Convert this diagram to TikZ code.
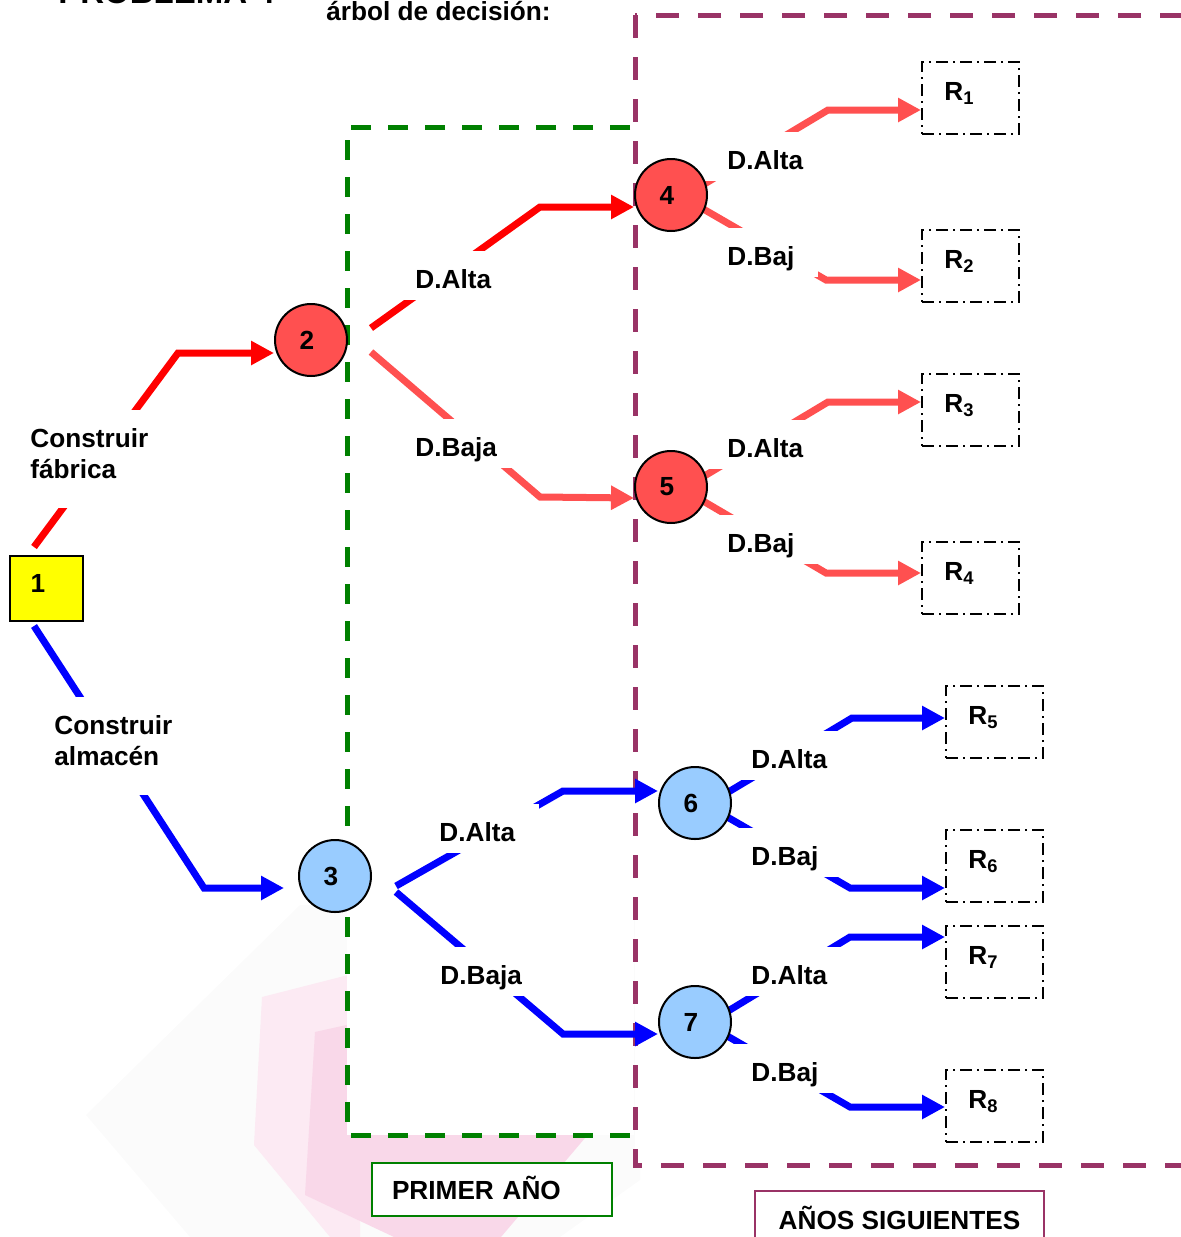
\documentclass[tikz,border=0pt]{standalone}
\usepackage{fontspec}
\setmainfont{Liberation Sans}
\usetikzlibrary{arrows.meta,calc}
\definecolor{rojo}{RGB}{255,0,0}
\definecolor{salmon}{RGB}{255,80,80}
\definecolor{azul}{RGB}{0,0,255}
\definecolor{celeste}{RGB}{153,204,255}
\definecolor{verde}{RGB}{0,128,0}
\definecolor{ciruela}{RGB}{153,51,102}
\definecolor{amarillo}{RGB}{255,255,0}
\definecolor{wmgrey}{RGB}{251,251,251}
\definecolor{wmpinkA}{RGB}{252,234,243}
\definecolor{wmpinkB}{RGB}{249,216,233}
\pgfdeclarelayer{wm}
\pgfdeclarelayer{conn}
\pgfdeclarelayer{lbl}
\pgfsetlayers{wm,conn,lbl,main}
\tikzset{
  txt/.style={font=\fontsize{13.1}{15.5}\selectfont\bfseries},
  rarrow/.style={line width=3.5pt, -{Triangle[length=11.5pt,width=11.5pt]}},
  lbl/.style={txt, fill=white, anchor=base west, inner xsep=12pt, inner ysep=6pt, text height=12.5pt, text depth=0pt},
  lbltwo/.style={txt, fill=white, anchor=north west, align=left, inner xsep=12pt, inner ysep=7pt},
  chance/.style={circle, draw=black, line width=1pt, minimum size=36pt, inner sep=0pt, txt},
  result/.style={draw=black, line width=1pt, dash pattern=on 6pt off 2.5pt on 1pt off 2.5pt, minimum width=48.5pt, minimum height=36pt, inner sep=0pt},
  rlab/.style={txt, anchor=base west, inner sep=0pt, xshift=11.5pt, yshift=-1pt},
}
\begin{document}
\begin{tikzpicture}[x=0.5pt,y=-0.5pt]
\useasboundingbox (0,0) rectangle (1181,1237);

% background watermark and period frames
\begin{pgfonlayer}{wm}
  \fill[wmgrey] (86,1115) -- (300,905) -- (640,905) -- (640,1180) -- (560,1237) -- (190,1237) -- cycle;
  \fill[wmpinkA] (262,997) -- (360,972) -- (360,1237) -- (330,1237) -- (254,1145) -- cycle;
  \fill[wmpinkB] (315,1032) -- (360,1022) -- (585,1138) -- (501,1237) -- (394,1237) -- (305,1195) -- cycle;
  \fill[white] (635,15) rectangle (1250,1165);
  \fill[white] (347,127) rectangle (634,1135);
  \draw[verde, line width=2.5pt, dash pattern=on 10pt off 8.5pt] (630,127) -- (347,127) -- (347,1135) -- (630,1135);
  \draw[ciruela, line width=2.5pt, dash pattern=on 11.5pt off 9.5pt] (635,15) rectangle (1250,1165);
\end{pgfonlayer}

% titles
\node[txt, font=\fontsize{16.5}{19}\selectfont\bfseries, anchor=base west, inner sep=0pt] (tprob) at (58,3) {PROBLEMA 4};
\node[txt, anchor=base west, inner sep=0pt] (tarbol) at (326,20) {árbol de decisión:};

% decision node and chance nodes
\node[draw=black, fill=amarillo, line width=1pt, minimum width=36.5pt, minimum height=32.5pt, inner sep=0pt,
      label={[txt, xshift=-4.25pt, yshift=2.75pt]center:1}] (n1) at (46.5,588.5) {};
\node[chance, fill=salmon] (n2) at (311,340) {\hspace*{-4pt}2};
\node[chance, fill=celeste] (n3) at (335,876) {\hspace*{-4pt}3};
\node[chance, fill=salmon] (n4) at (671,195) {\hspace*{-4pt}4};
\node[chance, fill=salmon] (n5) at (671,487) {\hspace*{-4pt}5};
\node[chance, fill=celeste] (n6) at (695,803) {\hspace*{-4pt}6};
\node[chance, fill=celeste] (n7) at (695,1022) {\hspace*{-4pt}7};

% result boxes
\node[result, label={[rlab]west:R\textsubscript{1}}] (R1) at (970.5,98) {};
\node[result, label={[rlab]west:R\textsubscript{2}}] (R2) at (970.5,266) {};
\node[result, label={[rlab]west:R\textsubscript{3}}] (R3) at (970.5,410) {};
\node[result, label={[rlab]west:R\textsubscript{4}}] (R4) at (970.5,578) {};
\node[result, label={[rlab]west:R\textsubscript{5}}] (R5) at (994.5,722) {};
\node[result, label={[rlab]west:R\textsubscript{6}}] (R6) at (994.5,866) {};
\node[result, label={[rlab]west:R\textsubscript{7}}] (R7) at (994.5,962) {};
\node[result, label={[rlab]west:R\textsubscript{8}}] (R8) at (994.5,1106) {};

% connectors
\begin{pgfonlayer}{conn}
  \draw[rarrow, rojo] ($(n1.north west)+(25,-8)$) -- (178,353) -- ($(n2.west)+(0,13)$);
  \draw[rarrow, azul] ($(n1.south west)+(25,4)$) -- (204,888) -- ($(n3.west)+(-14,12)$);
  \draw[rarrow, rojo] ($(n2.east)+(23,-12)$) -- (540,207) -- ($(n4.west)+(0,12)$);
  \draw[rarrow, salmon] ($(n2.east)+(23,12)$) -- (540,497) -- ($(n5.west)+(0,11)$);
  \draw[rarrow, azul] ($(n3.east)+(24,10)$) -- (563,791) -- ($(n6.west)+(0,-12)$);
  \draw[rarrow, azul] ($(n3.east)+(24,16)$) -- (563,1034) -- ($(n7.west)+(0,12)$);
  \draw[rarrow, salmon] ($(n4.center)+(15,0)$) -- (828,110) -- ($(R1.west)+(0,12)$);
  \draw[rarrow, salmon] ($(n4.center)+(15,4)$) -- (826,280) -- ($(R2.west)+(0,14)$);
  \draw[rarrow, salmon] ($(n5.center)+(15,0)$) -- (828,402) -- ($(R3.west)+(0,-8)$);
  \draw[rarrow, salmon] ($(n5.center)+(15,4)$) -- (826,573) -- ($(R4.west)+(0,-5)$);
  \draw[rarrow, azul] ($(n6.center)+(15,0)$) -- (852,718) -- ($(R5.west)+(0,-4)$);
  \draw[rarrow, azul] ($(n6.center)+(15,4)$) -- (850,888) -- ($(R6.west)+(0,22)$);
  \draw[rarrow, azul] ($(n7.center)+(15,0)$) -- (850,937) -- ($(R7.west)+(0,-25)$);
  \draw[rarrow, azul] ($(n7.center)+(15,4)$) -- (850,1107) -- ($(R8.west)+(0,1)$);
\end{pgfonlayer}

% branch labels (white boxes over the connectors)
\begin{pgfonlayer}{lbl}
  \node[lbltwo] (lfab) at (6,410) {\rule{0pt}{11.5pt}Construir\\fábrica\rule[-8pt]{0pt}{8pt}};
  \node[lbltwo] (lalm) at (30,697) {\rule{0pt}{11.5pt}Construir\\almacén\rule[-8pt]{0pt}{8pt}};
  \node[lbl] (l2a) at (391,288) {D.Alta};
  \node[lbl] (l2b) at (391,456) {D.Baja};
  \node[lbl] (l3a) at (415,841) {D.Alta};
  \node[lbl] (l3b) at (416,984) {D.Baja};
  \node[lbl] (l4a) at (703,169) {D.Alta};
  \node[lbl] (l4b) at (703,265) {D.Baj};
  \node[lbl] (l5a) at (703,457) {D.Alta};
  \node[lbl] (l5b) at (703,552) {D.Baj};
  \node[lbl] (l6a) at (727,768) {D.Alta};
  \node[lbl] (l6b) at (727,865) {D.Baj};
  \node[lbl] (l7a) at (727,984) {D.Alta};
  \node[lbl] (l7b) at (727,1081) {D.Baj};
\end{pgfonlayer}

% period captions
\node[txt, draw=verde, line width=1pt, fill=white, anchor=north west, align=left,
      text width=100pt, inner xsep=10pt, inner ysep=8.5pt, text height=9.5pt, text depth=0pt] (primer) at (371,1162) {PRIMER AÑO};
\node[txt, draw=ciruela, line width=1pt, fill=white, anchor=north west,
      minimum width=144.5pt, inner xsep=0pt, inner ysep=9.5pt, text height=9.5pt, text depth=0pt] (sig) at (754,1190) {AÑOS SIGUIENTES};
\end{tikzpicture}
\end{document}
